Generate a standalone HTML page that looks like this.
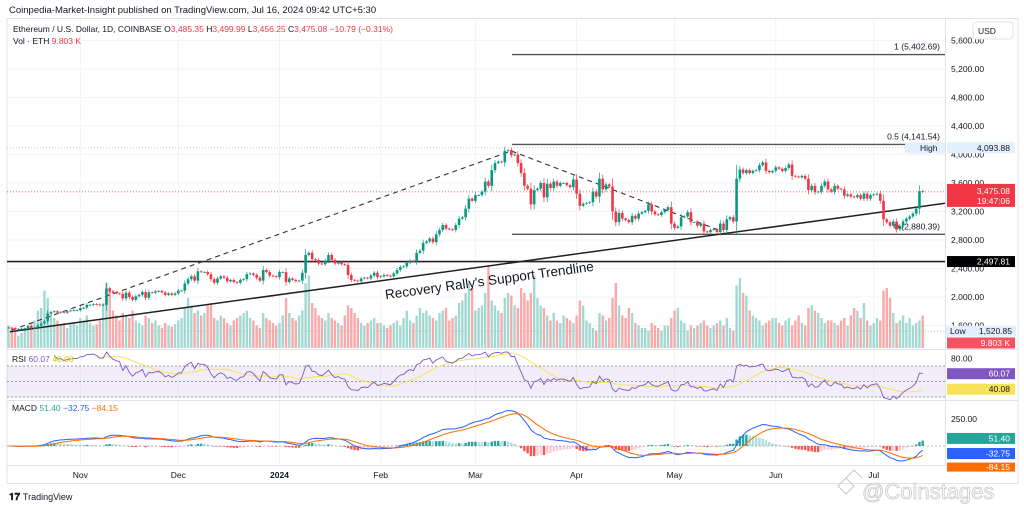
<!DOCTYPE html>
<html><head><meta charset="utf-8">
<style>
html,body{margin:0;padding:0;background:#fff;}
svg{display:block;font-family:"Liberation Sans",sans-serif;}
</style></head>
<body>
<svg id="chart" width="1024" height="509" viewBox="0 0 1024 509">
<text x="9" y="13" font-size="9.5" fill="#131722">Coinpedia-Market-Insight published on TradingView.com, Jul 16, 2024 09:42 UTC+5:30</text>
<rect x="7" y="18.5" width="1011" height="465" fill="#fff" stroke="#e0e3eb"/>
<g id="grid"></g>
<g id="vol"></g>
<g id="annot"></g>
<g id="candles"></g>
<g id="rsi"></g>
<g id="macd"></g>
<g id="axes"></g>
<text x="13" y="32" font-size="8.5" fill="#131722">Ethereum / U.S. Dollar, 1D, COINBASE  O<tspan fill="#f23645">3,485.35</tspan>  H<tspan fill="#f23645">3,499.99</tspan>  L<tspan fill="#f23645">3,456.25</tspan>  C<tspan fill="#f23645">3,475.08</tspan>  <tspan fill="#f23645">−10.79 (−0.31%)</tspan></text>
<text x="13" y="44" font-size="8.5" fill="#131722">Vol · ETH  <tspan fill="#f23645">9.803 K</tspan></text>
<rect x="973" y="22" width="40" height="17" rx="3" fill="#fff" stroke="#e0e3eb"/>
<text x="978" y="34" font-size="8.5" fill="#131722">USD</text>
<text x="9" y="500" font-size="10" font-weight="bold" fill="#131722">𝟏𝟕 <tspan font-weight="normal" font-size="9">TradingView</tspan></text>
<text x="862" y="499" font-size="22" fill="#fff" stroke="#c8c8c8" stroke-width="0.8">@Coinstages</text>
<path d="M838 486 l8 -8 l8 8 l-8 8 z M846 478 l8 -8 l8 8" fill="none" stroke="#c8c8c8"/>
</svg>
<script>
const closes = [
1570,1565,1540,1550,1555,1560,1590,1565,1570,1600,1630,1660,1770,1790,1800,1780,1790,1780,1800,1810,1815,1815,
1845,1850,1890,1890,1900,1895,1885,1890,2120,2080,2060,2050,2045,1980,2060,2000,1960,2010,2030,2070,1990,2065,2060,2080,2085,2065,2030,2050,2030,2050,
2090,2090,2190,2250,2290,2230,2360,2350,2350,2320,2250,2200,2260,2290,2270,2220,2240,2210,2200,2240,2250,2320,2330,2310,2270,2230,2380,2350,2300,2290,2280,
2350,2350,2210,2260,2240,2220,2230,2340,2590,2620,2530,2520,2470,2460,2510,2590,2520,2470,2490,2460,2450,2310,2240,2230,2220,2260,2270,2260,2300,2340,2280,
2290,2310,2300,2290,2330,2380,2420,2430,2480,2510,2500,2620,2650,2760,2780,2820,2770,2880,2940,3010,2960,2950,2940,3010,3100,3120,3240,3380,3350,
3430,3430,3480,3620,3560,3780,3880,3900,3890,4050,4060,3990,4000,3880,3740,3560,3520,3300,3500,3520,3600,3400,3590,3530,3620,3560,3600,3600,3570,3540,3650,
3450,3280,3310,3320,3330,3480,3410,3660,3510,3580,3550,3200,3050,3180,3100,3080,3050,3140,3100,3170,3190,3210,3300,3200,3160,3150,3190,3220,3260,3030,
2970,2990,3120,3130,3190,3050,3050,3000,3030,2920,2910,2940,2950,2910,3030,2940,3090,3120,3060,3660,3790,3740,3780,3740,3770,3780,3850,3890,3770,3750,3770,
3820,3800,3770,3810,3860,3700,3690,3680,3700,3660,3500,3560,3470,3480,3560,3620,3510,3480,3560,3520,3510,3420,3440,3410,3400,3430,3380,3450,3380,3430,
3440,3450,3350,3090,3050,3000,3060,2950,3000,3060,3100,3130,3170,3240,3485,3475];
const volumes = [
90,80,70,50,60,80,90,100,110,150,160,230,200,140,120,110,90,100,80,95,100,90,
120,110,130,100,90,95,110,180,260,240,150,130,110,140,130,120,150,110,100,90,130,120,100,110,90,80,100,90,85,95,
110,120,160,200,170,140,150,130,140,170,180,120,110,130,120,100,90,110,120,130,140,150,120,110,90,80,140,120,110,100,90,
100,130,200,140,120,110,130,150,260,290,180,160,130,120,110,140,120,110,100,90,130,170,160,140,120,100,90,100,110,120,100,
100,90,80,90,100,110,90,120,150,110,100,130,160,140,150,130,120,110,140,150,160,110,120,130,180,190,220,260,240,
150,160,170,220,330,190,170,150,140,200,220,210,170,160,240,220,190,220,290,200,170,160,130,110,140,110,100,130,120,110,100,
130,190,170,110,100,80,70,140,130,110,120,200,260,170,130,120,160,140,100,90,80,80,70,100,90,80,70,90,90,120,
150,160,110,100,70,90,80,90,100,110,90,80,90,100,110,90,120,80,70,250,280,220,210,150,130,120,110,90,100,110,120,
120,100,90,110,120,90,110,130,100,90,160,170,150,140,120,100,110,110,100,90,110,120,90,130,160,150,120,180,110,90,
100,120,110,230,240,200,140,100,110,130,100,120,90,100,110,130,10];
const priceTicks = [5600,5200,4800,4400,4000,3600,3200,2800,2400,2000,1600];
const monthLabels = ["Nov","Dec","2024","Feb","Mar","Apr","May","Jun","Jul"];
const monthIndex = [22,52,83,114,143,174,204,235,265];
const fibLevels = [5402.69,4141.54,2880.39];
const fibNames = ["1","0.5","0"];
const supportLevel = [2497.81];
const rsiTicks = [80];
const macdTicks = [250];
const rsiReadout = [60.07,40.08];

const NS="http://www.w3.org/2000/svg";
function mk(parent,tag,attrs,text){const e=document.createElementNS(NS,tag);for(const k in attrs)e.setAttribute(k,attrs[k]);if(text!==undefined)e.textContent=text;document.getElementById(parent).appendChild(e);return e;}
const X0=8.5, DX=3.265, PLOT_R=945;
const xAt=i=>X0+i*DX;
const yP=p=>69+(5200-p)*0.07125;
const VOL_BASE=348, yV=v=>VOL_BASE-v*0.25;
const yR=v=>366+(70-v)*0.775;
const yM=v=>446-v*0.108;
const n=closes.length;

monthIndex.forEach((mi,k)=>{const l=mk('grid','line',{x1:xAt(mi),x2:xAt(mi),y1:19,y2:465,stroke:'#f0f3fa'});

});
priceTicks.forEach(p=>{const l=mk('grid','line',{x1:7,x2:PLOT_R,y1:yP(p),y2:yP(p),stroke:'#f0f3fa'});

});
[349.5,400.5,465.5].forEach(y=>{const l=mk('grid','line',{x1:7,x2:1018,y1:y,y2:y,stroke:'#e0e3eb'});

});
const vsep=mk('grid','line',{x1:945.5,x2:945.5,y1:19,y2:465,stroke:'#e0e3eb'});



for(let i=0;i<n;i++){const o=i?closes[i-1]:closes[0];const up=closes[i]>=o;
const r=mk('vol','rect',{x:xAt(i)-1.2,y:yV(volumes[i]),width:2.4,height:VOL_BASE-yV(volumes[i]),fill:up?'#a3d9d2':'#f7aaa9'});

}

const yr=yP(3475.08);
const pl=mk('annot','line',{x1:7,x2:PLOT_R,y1:yr,y2:yr,stroke:'#f23645','stroke-dasharray':'1,2','stroke-width':0.8});


const hl=mk('annot','line',{x1:7,x2:PLOT_R,y1:yP(4093.88),y2:yP(4093.88),stroke:'#b2b5be','stroke-dasharray':'1,2','stroke-width':0.7});


const ll=mk('annot','line',{x1:7,x2:PLOT_R,y1:yP(1520.85),y2:yP(1520.85),stroke:'#b2b5be','stroke-dasharray':'1,2','stroke-width':0.7});


fibLevels.forEach((f,k)=>{const l=mk('annot','line',{x1:512,x2:PLOT_R,y1:yP(f),y2:yP(f),stroke:'#555','stroke-width':1.4});


const t=mk('annot','text',{x:940,y:yP(f)-5,'font-size':8.5,'text-anchor':'end',fill:'#131722'},fibNames[k]+' ('+f.toLocaleString('en-US',{minimumFractionDigits:2})+')');

});
supportLevel.forEach(s=>{const l=mk('annot','line',{x1:7,x2:PLOT_R,y1:yP(s),y2:yP(s),stroke:'#222','stroke-width':1.6});

});
const tl=mk('annot','line',{x1:10,x2:PLOT_R,y1:331.7,y2:203.3,stroke:'#222','stroke-width':1.5});


const d1=mk('annot','polyline',{points:`${xAt(1)},330 ${xAt(154)},${yP(4050)} ${xAt(218)},${yP(2930)}`,fill:'none',stroke:'#333','stroke-width':1.1,'stroke-dasharray':'5,4'});


const tt=mk('annot','text',{x:490,y:285,'font-size':13.5,fill:'#131722','text-anchor':'middle',transform:'rotate(-7.8 490 285)'},"Recovery Rally's Support Trendline");



for(let i=0;i<n;i++){const c=closes[i],o=i?closes[i-1]:c;const up=c>=o;const col=up?'#089981':'#f23645';
const hi=Math.max(o,c)+Math.abs(c-o)*0.3+12,lo=Math.min(o,c)-Math.abs(c-o)*0.3-12;
const w=mk('candles','line',{x1:xAt(i),x2:xAt(i),y1:yP(hi),y2:yP(lo),stroke:col,'stroke-width':0.7});


const b=mk('candles','rect',{x:xAt(i)-1.3,y:yP(Math.max(o,c)),width:2.6,height:Math.max(0.8,yP(Math.min(o,c))-yP(Math.max(o,c))),fill:col});

}

function rsiCalc(p,len){const out=new Array(p.length).fill(null);let ag=0,al=0;
for(let i=1;i<p.length;i++){const d=p[i]-p[i-1],g=Math.max(d,0),l=Math.max(-d,0);
if(i<=len){ag+=g/len;al+=l/len;}else{ag=(ag*(len-1)+g)/len;al=(al*(len-1)+l)/len;}
if(i>=len)out[i]=al===0?100:100-100/(1+ag/al);}return out;}
const rsiV=rsiCalc(closes,14);
const rsiMA=rsiV.map((v,i)=>{if(i<27)return null;let s=0;for(let k=i-13;k<=i;k++)s+=rsiV[k];return s/14;});
const band=mk('rsi','rect',{x:7,y:yR(70),width:PLOT_R-7,height:yR(30)-yR(70),fill:'#7e57c2','fill-opacity':0.1});


[70,50,30].forEach(v=>{const l=mk('rsi','line',{x1:7,x2:PLOT_R,y1:yR(v),y2:yR(v),stroke:'#787b86','stroke-dasharray':'2,2','stroke-width':0.7});

});
function path(arr,fy){let d='';arr.forEach((v,i)=>{if(v===null)return;d+=(d?'L':'M')+xAt(i).toFixed(1)+','+fy(v).toFixed(1);});return d;}
const rm=mk('rsi','path',{d:path(rsiMA,yR),fill:'none',stroke:'#f7e35a','stroke-width':1});


const rl=mk('rsi','path',{d:path(rsiV,v=>yR(Math.max(18,Math.min(88,v)))),fill:'none',stroke:'#7e57c2','stroke-width':0.9});


const rt=mk('rsi','text',{x:12,y:362,'font-size':8.5,fill:'#131722'},'RSI ');


rt.innerHTML='RSI <tspan fill="#7e57c2">'+rsiReadout[0].toFixed(2)+'</tspan> <tspan fill="#e3c800">'+rsiReadout[1].toFixed(2)+'</tspan>';

function ema(arr,len){const k=2/(len+1);const out=[];arr.forEach((v,i)=>out.push(i?v*k+out[i-1]*(1-k):v));return out;}
const e12=ema(closes,12),e26=ema(closes,26);
const macdV=e12.map((v,i)=>v-e26[i]);
const sigV=ema(macdV,9);
const histV=macdV.map((v,i)=>v-sigV[i]);
for(let i=1;i<n;i++){const h=histV[i],p=histV[i-1];
const col=h>=0?(h>=p?'#26a69a':'#b2dfdb'):(h<p?'#ff5252':'#ffcdd2');
const r=mk('macd','rect',{x:xAt(i)-1.2,y:Math.min(yM(h),yM(0)),width:2.4,height:Math.max(0.5,Math.abs(yM(h)-yM(0))),fill:col});

}
const zl=mk('macd','line',{x1:7,x2:PLOT_R,y1:yM(0),y2:yM(0),stroke:'#787b86','stroke-dasharray':'2,2','stroke-width':0.6});


const ml=mk('macd','path',{d:path(macdV,yM),fill:'none',stroke:'#2962ff','stroke-width':1});


const sl=mk('macd','path',{d:path(sigV,yM),fill:'none',stroke:'#ff6d00','stroke-width':1});


const mt=mk('macd','text',{x:12,y:411,'font-size':8.5,fill:'#131722'},'MACD');


mt.innerHTML='MACD <tspan fill="#26a69a">51.40</tspan> <tspan fill="#2962ff">−32.75</tspan> <tspan fill="#ff6d00">−84.15</tspan>';

priceTicks.forEach(p=>{const t=mk('axes','text',{x:951,y:yP(p)+3,'font-size':8.5,fill:'#131722'},p.toLocaleString('en-US',{minimumFractionDigits:2}));

});
rsiTicks.forEach(v=>{const t=mk('axes','text',{x:951,y:yR(v)+3,'font-size':8.5,fill:'#131722'},v.toFixed(2));

});
macdTicks.forEach(v=>{const t=mk('axes','text',{x:951,y:yM(v)+3,'font-size':8.5,fill:'#131722'},v.toFixed(2));

});
monthLabels.forEach((m,k)=>{const t=mk('axes','text',{x:xAt(monthIndex[k]),y:478,'font-size':8.5,'text-anchor':'middle',fill:'#131722','font-weight':m==='2024'?'bold':'normal'},m);

});
function tag(y,txt,bg,fg,name,h){const r=mk('axes','rect',{x:947,y:y-(h||11)/2,width:68,height:h||11,fill:bg});


const t=mk('axes','text',{x:1010,y:y+3,'font-size':8.5,'text-anchor':'end',fill:fg},txt);

return t;}
tag(yP(4093.88),'4,093.88','#e3effd','#131722','high-price-tag');
const hi=mk('axes','rect',{x:905,y:yP(4093.88)-5.5,width:40,height:11,fill:'#e3effd'});


const hit=mk('axes','text',{x:920,y:yP(4093.88)+3,'font-size':8.5,fill:'#131722'},'High');


const lt0=mk('axes','rect',{x:946,y:yP(1520.85)-5.5,width:70,height:11,fill:'#e3effd'});


const lt=mk('axes','text',{x:950,y:yP(1520.85)+3,'font-size':8.5,fill:'#131722'},'Low');


const lt2=mk('axes','text',{x:1012,y:yP(1520.85)+3,'font-size':8.5,'text-anchor':'end',fill:'#131722'},'1,520.85');


tag(yP(2497.81),'2,497.81','#000','#fff','support-price-tag');
const rb=mk('axes','rect',{x:947,y:yr-8,width:68,height:23,fill:'#f23645'});


const rbt=mk('axes','text',{x:1010,y:yr+2,'font-size':8.5,'text-anchor':'end',fill:'#fff'},'3,475.08');


const rbc=mk('axes','text',{x:1010,y:yr+12,'font-size':8.5,'text-anchor':'end',fill:'#fff'},'19:47:06');


tag(343,'9.803 K','#f7525f','#fff','volume-tag');
tag(yR(rsiReadout[0]),rsiReadout[0].toFixed(2),'#7e57c2','#fff','rsi-value-tag');
tag(yR(rsiReadout[1]),rsiReadout[1].toFixed(2),'#f7e35a','#131722','rsi-ma-tag');
tag(yM(51.4)-2,'51.40','#26a69a','#fff','macd-hist-tag');
tag(yM(-32.75)+4,'-32.75','#2962ff','#fff','macd-line-tag');
tag(yM(-84.15)+12,'-84.15','#ff6d00','#fff','macd-signal-tag',9);
</script>
</body></html>
